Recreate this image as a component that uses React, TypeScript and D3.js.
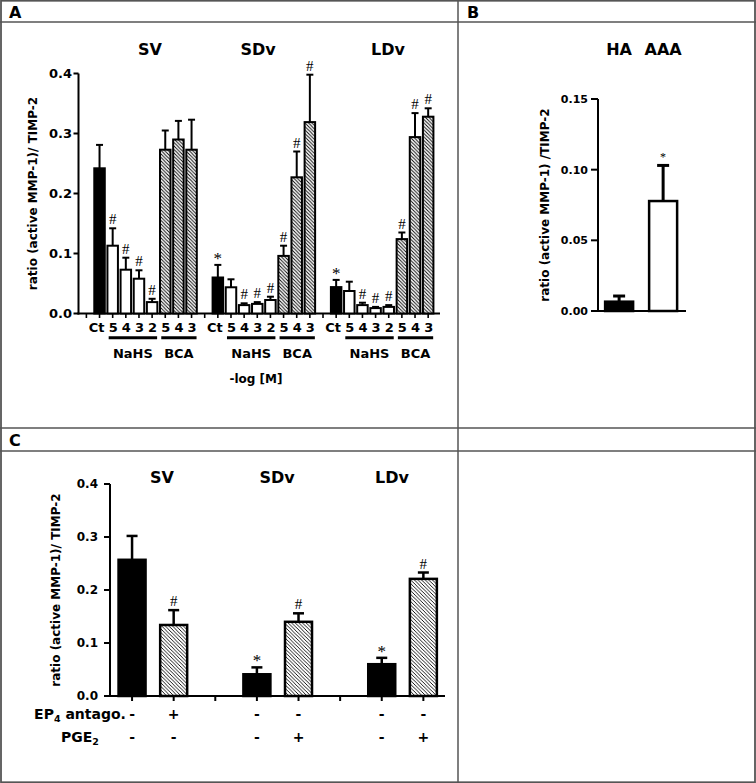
import React from 'react';
import * as d3 from 'd3';

// ---------- Panel A data ----------
const aGroups = ['SV', 'SDv', 'LDv'];
const aTickLabels = ['Ct', '5', '4', '3', '2', '5', '4', '3'];
const aKinds = ['ctrl', 'nahs', 'nahs', 'nahs', 'nahs', 'bca', 'bca', 'bca'];
const aSV = [0.242, 0.113, 0.073, 0.058, 0.019, 0.273, 0.29, 0.273];
const aSVErr = [0.281, 0.142, 0.093, 0.072, 0.0245, 0.305, 0.321, 0.323];
const aSVMarks = ['', '#', '#', '#', '#', '', '', ''];
const aSDv = [0.06, 0.0437, 0.014, 0.016, 0.0225, 0.096, 0.227, 0.319];
const aSDvErr = [0.081, 0.057, 0.017, 0.019, 0.028, 0.113, 0.27, 0.398];
const aSDvMarks = ['*', '', '#', '#', '#', '#', '#', '#'];
const aLDv = [0.044, 0.0375, 0.014, 0.009, 0.011, 0.124, 0.294, 0.328];
const aLDvErr = [0.056, 0.053, 0.018, 0.011, 0.014, 0.135, 0.334, 0.342];
const aLDvMarks = ['*', '', '#', '#', '#', '#', '#', '#'];
const aYTicks = [0, 0.1, 0.2, 0.3, 0.4];
const aBrackets = ['NaHS', 'BCA'];

// ---------- Panel B data ----------
const bCats = ['HA', 'AAA'];
const bVals = [0.0066, 0.0778];
const bErr = [0.0106, 0.103];
const bMarks = ['', '*'];
const bYTicks = [0, 0.05, 0.1, 0.15];

// ---------- Panel C data ----------
const cGroups = ['SV', 'SDv', 'LDv'];
const cVals = [0.257, 0.134, 0.041, 0.14, 0.06, 0.221];
const cErr = [0.302, 0.162, 0.054, 0.156, 0.072, 0.233];
const cMarks = ['', '#', '*', '#', '*', '#'];
const cKinds = ['ctrl', 'pge', 'ctrl', 'pge', 'ctrl', 'pge'];
const cEP4 = ['-', '+', '-', '-', '-', '-'];
const cPGE2 = ['-', '-', '-', '+', '-', '+'];
const cYTicks = [0, 0.1, 0.2, 0.3, 0.4];

const SANS = "'DejaVu Sans', Arial, sans-serif";
const SERIF = "'Liberation Serif', 'Times New Roman', serif";
const BORDER = '#555';

const fillFor = (k: string) => (k === 'ctrl' ? '#000' : k === 'nahs' ? '#fff' : 'url(#hatch)');

function ErrorBar({ x, y0, y1, cap, w }: { x: number; y0: number; y1: number; cap: number; w: number }) {
  return (
    <g stroke="#000" strokeWidth={w}>
      <line x1={x} x2={x} y1={y0} y2={y1} />
      <line x1={x - cap / 2} x2={x + cap / 2} y1={y1} y2={y1} />
    </g>
  );
}

function Mark({ x, yCap, m, size }: { x: number; yCap: number; m: string; size: number }) {
  if (!m) return null;
  const y = m === '#' ? yCap - 4 : yCap - 1;
  return (
    <text x={x} y={y} textAnchor="middle" fontFamily={SERIF} fontSize={m === '*' ? size + 2 : size} fill="#000">
      {m}
    </text>
  );
}

function PanelA() {
  const x = d3.scaleLinear().domain([-0.6, 26.9]).range([78.5, 440]);
  const y = d3.scaleLinear().domain([0, 0.4]).range([313.5, 73.5]);
  const series = [
    { v: aSV, e: aSVErr, m: aSVMarks },
    { v: aSDv, e: aSDvErr, m: aSDvMarks },
    { v: aLDv, e: aLDvErr, m: aLDvMarks },
  ];
  const titleX = [150, 258, 388];
  const slot = (g: number, j: number) => 1 + g * 9 + j;
  const bw = 10.5;
  const ticks = d3.range(0, 27);
  return (
    <g>
      {/* y axis */}
      <line x1={x(-0.6)} x2={x(-0.6)} y1={y(0) + 1} y2={y(0.4)} stroke="#000" strokeWidth={2} />
      {aYTicks.map((t) => (
        <g key={t}>
          <line x1={x(-0.6) - 5} x2={x(-0.6)} y1={y(t)} y2={y(t)} stroke="#000" strokeWidth={2} />
          <text x={72} y={y(t) + 4.7} textAnchor="end" fontFamily={SANS} fontWeight="bold" fontSize={13}>
            {d3.format('.1f')(t)}
          </text>
        </g>
      ))}
      <text
        transform={`translate(33,${(y(0) + y(0.4)) / 2}) rotate(-90)`}
        textAnchor="middle"
        dominantBaseline="middle"
        fontFamily={SANS}
        fontWeight="bold"
        fontSize={12}
      >
        ratio (active MMP-1)/ TIMP-2
      </text>
      {/* x axis */}
      <line x1={x(-0.6) - 1} x2={440} y1={y(0)} y2={y(0)} stroke="#000" strokeWidth={2} />
      {ticks.map((t) => (
        <line key={t} x1={x(t)} x2={x(t)} y1={y(0)} y2={y(0) + 4.5} stroke="#000" strokeWidth={1.6} />
      ))}
      {/* bars */}
      {series.map((s, g) => (
        <g key={g}>
          {s.v.map((v, j) => {
            const cx = x(slot(g, j));
            return (
              <g key={j}>
                <ErrorBar x={cx} y0={y(v)} y1={y(s.e[j])} cap={7} w={2} />
                <rect
                  x={cx - bw / 2}
                  y={y(v)}
                  width={bw}
                  height={y(0) - y(v)}
                  fill={fillFor(aKinds[j])}
                  stroke="#000"
                  strokeWidth={2}
                />
                <Mark x={cx} yCap={y(s.e[j])} m={s.m[j]} size={15} />
                <text
                  x={cx + (j === 0 ? -3 : 0.5)}
                  y={331.7}
                  textAnchor="middle"
                  fontFamily={SANS}
                  fontWeight="bold"
                  fontSize={13}
                >
                  {aTickLabels[j]}
                </text>
              </g>
            );
          })}
          {/* brackets */}
          {aBrackets.map((b, k) => {
            const s0 = k === 0 ? slot(g, 1) : slot(g, 5);
            const s1 = k === 0 ? slot(g, 4) : slot(g, 7);
            const x0 = x(s0) - 4;
            const x1 = x(s1) + 5;
            return (
              <g key={b}>
                <line x1={x0} x2={x1} y1={337.7} y2={337.7} stroke="#000" strokeWidth={3} />
                <text
                  x={(x0 + x1) / 2}
                  y={358.3}
                  textAnchor="middle"
                  fontFamily={SANS}
                  fontWeight="bold"
                  fontSize={13}
                >
                  {b}
                </text>
              </g>
            );
          })}
          <text x={titleX[g]} y={55} textAnchor="middle" fontFamily={SANS} fontWeight="bold" fontSize={16}>
            {aGroups[g]}
          </text>
        </g>
      ))}
      <text x={256} y={383} textAnchor="middle" fontFamily={SANS} fontWeight="bold" fontSize={12}>
        -log [M]
      </text>
    </g>
  );
}

function PanelB() {
  const x = d3.scaleLinear().domain([-0.48, 1.52]).range([598, 686]);
  const y = d3.scaleLinear().domain([0, 0.15]).range([311, 99]);
  const bw = 28;
  return (
    <g>
      <line x1={598} x2={598} y1={y(0) + 1} y2={y(0.15)} stroke="#000" strokeWidth={2} />
      {bYTicks.map((t) => (
        <g key={t}>
          <line x1={591} x2={598} y1={y(t)} y2={y(t)} stroke="#000" strokeWidth={2} />
          <text x={588} y={y(t) + 4} textAnchor="end" fontFamily={SANS} fontWeight="bold" fontSize={11}>
            {d3.format('.2f')(t)}
          </text>
        </g>
      ))}
      <text
        transform={`translate(545,${(y(0) + y(0.15)) / 2}) rotate(-90)`}
        textAnchor="middle"
        dominantBaseline="middle"
        fontFamily={SANS}
        fontWeight="bold"
        fontSize={12}
      >
        ratio (active MMP-1) /TIMP-2
      </text>
      <line x1={597} x2={686} y1={y(0)} y2={y(0)} stroke="#000" strokeWidth={2} />
      {bVals.map((v, i) => (
        <g key={i}>
          <ErrorBar x={x(i)} y0={y(v)} y1={y(bErr[i])} cap={12} w={3} />
          <rect
            x={x(i) - bw / 2}
            y={y(v)}
            width={bw}
            height={y(0) - y(v)}
            fill={i === 0 ? '#000' : '#fff'}
            stroke="#000"
            strokeWidth={2.5}
          />
          {bMarks[i] && (
            <text x={x(i)} y={y(bErr[i]) - 4} textAnchor="middle" fontFamily={SERIF} fontSize={12}>
              {bMarks[i]}
            </text>
          )}
          <text x={x(i)} y={55} textAnchor="middle" fontFamily={SANS} fontWeight="bold" fontSize={16}>
            {bCats[i]}
          </text>
        </g>
      ))}
    </g>
  );
}

function PanelC() {
  const x = d3.scaleLinear().domain([-0.53, 7.52]).range([110, 445]);
  const y = d3.scaleLinear().domain([0, 0.4]).range([696, 484]);
  const slots = [0, 1, 3, 4, 6, 7];
  const titleX = [162, 277, 392];
  const bw = 27;
  return (
    <g>
      <line x1={110} x2={110} y1={y(0) + 1} y2={y(0.4)} stroke="#000" strokeWidth={2} />
      {cYTicks.map((t) => (
        <g key={t}>
          <line x1={104} x2={110} y1={y(t)} y2={y(t)} stroke="#000" strokeWidth={2} />
          <text x={98} y={y(t) + 4.3} textAnchor="end" fontFamily={SANS} fontWeight="bold" fontSize={12}>
            {d3.format('.1f')(t)}
          </text>
        </g>
      ))}
      <text
        transform={`translate(56,${(y(0) + y(0.4)) / 2}) rotate(-90)`}
        textAnchor="middle"
        dominantBaseline="middle"
        fontFamily={SANS}
        fontWeight="bold"
        fontSize={12}
      >
        ratio (active MMP-1)/ TIMP-2
      </text>
      <line x1={109} x2={445} y1={y(0)} y2={y(0)} stroke="#000" strokeWidth={2} />
      {d3.range(0, 8).map((t) => (
        <line key={t} x1={x(t)} x2={x(t)} y1={y(0)} y2={y(0) + 5} stroke="#000" strokeWidth={2} />
      ))}
      {cVals.map((v, i) => {
        const cx = x(slots[i]);
        return (
          <g key={i}>
            <ErrorBar x={cx} y0={y(v)} y1={y(cErr[i])} cap={11} w={2.5} />
            <rect
              x={cx - bw / 2}
              y={y(v)}
              width={bw}
              height={y(0) - y(v)}
              fill={cKinds[i] === 'ctrl' ? '#000' : 'url(#hatchC)'}
              stroke="#000"
              strokeWidth={2.5}
            />
            <Mark x={cx} yCap={y(cErr[i])} m={cMarks[i]} size={15} />
            <text x={cx} y={719} textAnchor="middle" fontFamily={SANS} fontWeight="bold" fontSize={14}>
              {cEP4[i]}
            </text>
            <text x={cx} y={742} textAnchor="middle" fontFamily={SANS} fontWeight="bold" fontSize={14}>
              {cPGE2[i]}
            </text>
          </g>
        );
      })}
      {cGroups.map((g, i) => (
        <text key={g} x={titleX[i]} y={483} textAnchor="middle" fontFamily={SANS} fontWeight="bold" fontSize={16}>
          {g}
        </text>
      ))}
      <text x={80} y={719} textAnchor="middle" fontFamily={SANS} fontWeight="bold" fontSize={14}>
        EP
        <tspan fontSize={9.5} dy={3}>
          4
        </tspan>
        <tspan dy={-3}> antago.</tspan>
      </text>
      <text x={80} y={742} textAnchor="middle" fontFamily={SANS} fontWeight="bold" fontSize={14}>
        PGE
        <tspan fontSize={9.5} dy={3}>
          2
        </tspan>
      </text>
    </g>
  );
}

export default function App() {
  return (
    <svg width={756} height={783} style={{ position: 'absolute', left: 0, top: 0 }}>
      <defs>
        <pattern id="hatch" patternUnits="userSpaceOnUse" width={3.5} height={3.5}>
          <rect width={3.5} height={3.5} fill="#fff" />
          <path d="M-1,-1 L4.5,4.5 M-1,2.5 L1,4.5 M2.5,-1 L4.5,1" stroke="#000" strokeWidth={0.9} />
        </pattern>
        <pattern id="hatchC" patternUnits="userSpaceOnUse" width={3.6} height={3.6}>
          <rect width={3.6} height={3.6} fill="#fff" />
          <path d="M-1,-1 L4.6,4.6 M-1,2.6 L1,4.6 M2.6,-1 L4.6,1" stroke="#000" strokeWidth={0.9} />
        </pattern>
      </defs>
      <rect x={0} y={0} width={756} height={783} fill="#fff" />
      {/* frame */}
      <rect x={1} y={0.75} width={754} height={781.5} fill="none" stroke={BORDER} strokeWidth={1.8} />
      <line x1={0} x2={756} y1={22} y2={22} stroke={BORDER} strokeWidth={1.5} />
      <line x1={0} x2={756} y1={428} y2={428} stroke={BORDER} strokeWidth={1.5} />
      <line x1={0} x2={756} y1={451} y2={451} stroke={BORDER} strokeWidth={1.5} />
      <line x1={458} x2={458} y1={0} y2={783} stroke={BORDER} strokeWidth={1.5} />
      <text x={9} y={17.5} fontFamily={SANS} fontWeight="bold" fontSize={16}>A</text>
      <text x={467} y={18} fontFamily={SANS} fontWeight="bold" fontSize={16}>B</text>
      <text x={9} y={446} fontFamily={SANS} fontWeight="bold" fontSize={16}>C</text>
      <PanelA />
      <PanelB />
      <PanelC />
    </svg>
  );
}
